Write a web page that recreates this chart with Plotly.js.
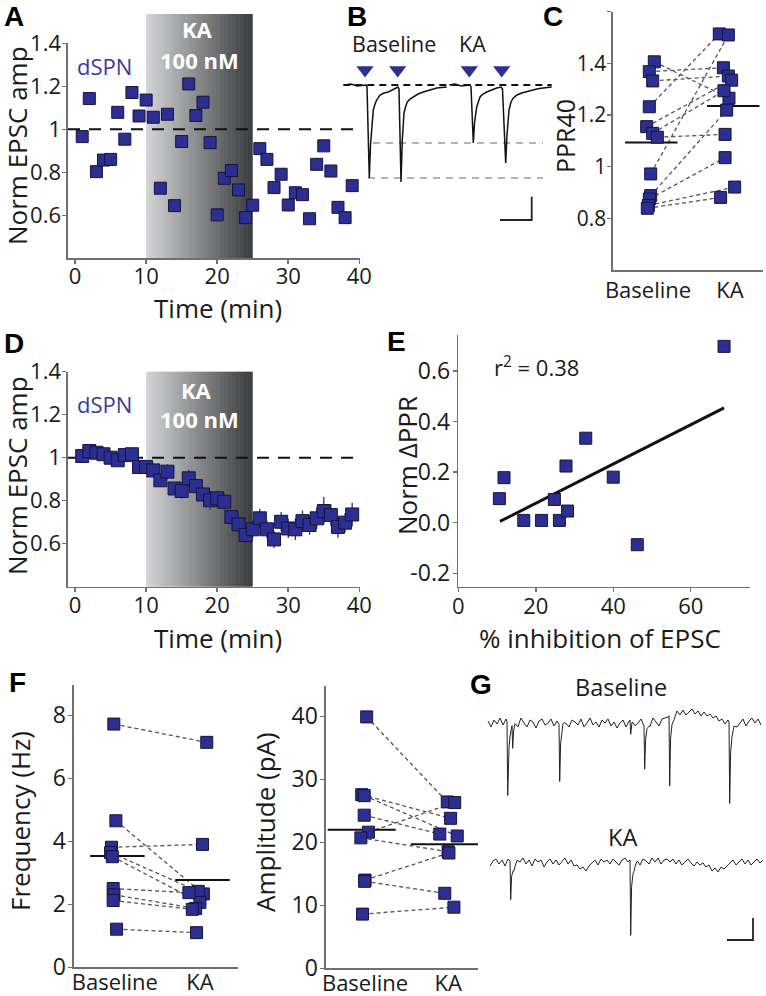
<!DOCTYPE html>
<html>
<head>
<meta charset="utf-8">
<script src="https://cdn.plot.ly/plotly-3.0.1.min.js"></script>
<style>
  html, body { margin: 0; padding: 0; background: #fff; }
  #fig { width: 766px; height: 996px; }
</style>
</head>
<body>
<div id="fig"></div>
<script>
// ---------- data ----------
// A: single dSPN, EPSC amplitude per minute
const timeA = [1,2,3,4,5,6,7,8,9,10,11,12,13,14,15,16,17,18,19,20,21,22,23,24,25,26,27,28,29,30,31,32,33,34,35,36,37,38,39];
const ampA = [0.966,1.143,0.803,0.857,0.860,1.079,0.954,1.171,1.062,1.136,1.056,0.726,1.070,0.645,0.943,1.211,1.064,1.126,0.938,0.602,
              0.772,0.808,0.718,0.589,0.647,0.910,0.860,0.729,0.791,0.648,0.705,0.696,0.584,0.837,0.923,0.806,0.637,0.589,0.738];
// D: population mean +/- sem
const timeD = [1,2,3,4,5,6,7,8,9,10,11,12,13,14,15,16,17,18,19,20,21,22,23,24,25,26,27,28,29,30,31,32,33,34,35,36,37,38,39];
const ampD = [1.008,1.031,1.023,1.016,1.000,0.988,1.012,1.016,0.957,0.957,0.941,0.895,0.935,0.857,0.845,0.904,0.868,0.829,0.802,0.811,
              0.795,0.724,0.690,0.640,0.667,0.718,0.667,0.620,0.702,0.671,0.667,0.705,0.687,0.718,0.752,0.733,0.678,0.698,0.736];
const errD = [0.020,0.030,0.025,0.020,0.020,0.025,0.020,0.020,0.025,0.025,0.030,0.030,0.035,0.030,0.035,0.040,0.035,0.035,0.045,0.035,
              0.040,0.035,0.040,0.045,0.040,0.045,0.040,0.040,0.045,0.045,0.050,0.050,0.045,0.050,0.065,0.050,0.050,0.045,0.055];
const kaWindow = [10, 25];

// B: example paired-pulse EPSCs (ms, pA)
const bBaseT = [2,8,14,20,23,24,26.3,27.5,29,30.3,32,33.7,37,41,45.3,52,55,56,58,59.3,61,62.5,64.3,67,70.3,75,80.3,87,93.7,103.7];
const bBaseI = [0,1,-1,0,0,-2,-93,-60,-35,-25,-19,-15,-10,-8,-7,-3,-2,-4,-97,-55,-28,-22,-17,-14,-12,-9,-7,-5,-3,-2];
const bKAT = [106.3,112,118,124,127,128,130.3,131.5,133.7,137,140,143.7,148,153.7,158,159.5,162.7,164,166,168,170.3,174,178.7,185,193.7,200,208.7];
const bKAI = [0,1,-1,0,0,-2,-58,-38,-22,-12,-9,-7,-5,-3,-2,-4,-78,-50,-25,-17,-13,-10,-8,-6,-4,-3,-2];
const bStimT = [22, 54.7, 126.3, 158.7];
const bRefLevel = [-58, -93];
const bRefStart = [30, 25];
const bRefEnd = [200, 200];
const bScaleT = [157, 188.7, 188.7];
const bScaleI = [-135, -135, -111.7];

// C: PPR40 baseline vs KA
const pprBase = [1.406,1.368,1.332,1.232,1.155,1.129,1.114,0.972,0.888,0.875,0.850,0.839];
const pprBaseX = [0.077,0.016,0.057,0.016,-0.016,0.057,0.114,0.033,0.033,0.016,0.004,-0.008];
const pprKA = [1.265,1.383,1.351,1.514,1.335,1.294,1.125,1.510,1.219,1.035,0.921,0.881];
const pprKAX = [0.988,0.920,0.980,0.870,1.020,0.927,0.940,0.980,0.960,0.940,1.057,0.886];
const pprMeans = [1.094, 1.235];

// E: % inhibition vs norm dPPR
const inhib = [10.6,11.8,16.9,21.5,24.8,26.1,28.2,27.8,32.9,40.0,46.2,68.6];
const dPPR = [0.095,0.178,0.009,0.009,0.092,0.009,0.046,0.224,0.334,0.180,-0.087,0.697];
const fitX = [10.75, 68.6];
const fitY = [0.005, 0.454];

// F: mEPSC frequency and amplitude
const freqBase = [7.72,4.65,3.81,3.64,3.51,2.50,2.30,2.12,1.21];
const freqBaseX = [-0.012,0.012,-0.04,-0.05,-0.03,-0.02,-0.01,-0.02,0.02];
const freqKA = [7.14,2.33,3.90,2.41,2.06,2.37,1.87,1.84,1.10];
const freqKAX = [1.08,1.04,1.03,0.98,1.00,0.87,0.95,0.91,0.96];
const freqMeans = [3.53, 2.77];
const mampBase = [39.9,27.55,27.4,24.3,21.6,20.7,14.0,13.8,8.6];
const mampBaseX = [0.02,-0.04,-0.01,-0.01,0.04,-0.05,0,-0.005,-0.03];
const mampKA = [26.4,23.8,21.0,21.3,26.3,18.5,18.3,11.9,9.7];
const mampKAX = [0.99,1.03,1.11,0.90,1.08,1.00,1.01,0.96,1.07];
const mampMeans = [22.0, 19.7];

// G: example mEPSC traces (noise samples every 3 ms, events [time, pA])
const gBaseNoise = [2,-4,3,-1,5,-2,4,-4,1,3,-3,5,0,-4,3,1,-5,2,4,-2,0,4,-3,2,-3,5,0,-4,3,1,
                    -2,4,-4,0,5,-2,1,-4,3,0,4,-3,1,-5,0,3,-4,2,5,-2,0,4,-3,1,-2,5,1,-3,4,5,
                    6,10,7,12,8,13,8,11,14,9,12,7,11,7,9,5,7,2,4,-1,3,-3,1,-4,0,4,-3,2,5,0,4,-2];
const gBaseEvents = [[22,-72],[27,-24],[74,-56],[145,-15],[159,-44],[184,-71],[244,-80]];
const gKANoise = [-3,2,4,-1,3,-3,4,1,-4,3,1,5,-1,3,-3,4,1,3,-4,1,4,-1,3,-2,1,5,-1,3,-3,-2,
                  -6,-4,-8,-3,0,3,-2,4,1,3,-1,4,1,-2,3,5,1,4,-1,3,-2,4,2,-1,5,1,5,-1,3,4,
                  1,4,-1,3,-2,1,4,0,-3,1,-2,0,-4,-2,-8,-5,-9,-4,-6,-3,0,3,-2,1,4,-1,3,-2,1,4,0,3];
const gKAEvents = [[25,-38],[145,-76]];
const gEventOff = [0, 0.7, 1.6, 3, 5, 8];
const gEventVal = [0, 1, 0.35, 0.15, 0.05, 0];
const gScaleT = [242, 268, 268];
const gScaleI = [-77, -77, -55];

// ---------- helpers ----------
const W = 766, H = 996;
const fx = px => px / W;
const fy = py => 1 - py / H;
const FONT = 'Open Sans, Noto Sans, sans-serif';
const INK = '#1a1a1a';
const BLUE = '#2c2f91';
const marker = size => ({ symbol: 'square', size: size, color: BLUE, line: { color: '#15153f', width: 1 } });

function axis(extra) {
  return Object.assign({
    showgrid: false, zeroline: false, showline: true, linecolor: '#707070', linewidth: 1.6,
    ticks: 'outside', ticklen: 4, tickwidth: 1.5, tickcolor: '#707070',
    tickfont: { family: FONT, size: 23, color: INK }, fixedrange: true
  }, extra);
}
function hidden(extra) {
  return Object.assign({ visible: false, fixedrange: true }, extra);
}
function pairs(bx, by, kx, ky) {
  const x = [], y = [];
  for (let i = 0; i < by.length; i++) { x.push(bx[i], kx[i], null); y.push(by[i], ky[i], null); }
  return { x, y };
}
function meanBars(means, halfL, halfR) {
  return { x: [-halfL, halfR, null, 1 - halfL, 1 + halfR], y: [means[0], means[0], null, means[1], means[1]] };
}
function traceFrom(t0, dt, noise, events) {
  const tmpl = d => {
    if (d < gEventOff[0] || d > gEventOff[gEventOff.length - 1]) return 0;
    for (let k = 1; k < gEventOff.length; k++) {
      if (d <= gEventOff[k]) {
        const f = (d - gEventOff[k - 1]) / (gEventOff[k] - gEventOff[k - 1]);
        return gEventVal[k - 1] + f * (gEventVal[k] - gEventVal[k - 1]);
      }
    }
    return 0;
  };
  const noiseAt = t => {
    const f = (t - t0) / dt;
    const i = Math.max(0, Math.min(noise.length - 2, Math.floor(f)));
    const r = Math.max(0, Math.min(1, f - i));
    return noise[i] + r * (noise[i + 1] - noise[i]);
  };
  const ts = noise.map((_, i) => t0 + i * dt);
  events.forEach(ev => gEventOff.forEach(o => ts.push(ev[0] + o)));
  ts.sort((a, b) => a - b);
  const ys = ts.map(t => noiseAt(t) + events.reduce((s, ev) => s + ev[1] * tmpl(t - ev[0]), 0));
  return { x: ts, y: ys };
}
function shade(xa, pyTop, pyBot) {
  const n = 40, c0 = [212, 213, 215], c1 = [56, 57, 59];
  const w = (kaWindow[1] - kaWindow[0]) / n;
  const out = [];
  for (let i = 0; i < n; i++) {
    const t = (i + 0.5) / n;
    const c = c0.map((v, k) => Math.round(v + (c1[k] - v) * t));
    out.push({
      type: 'rect', xref: xa, yref: 'paper', layer: 'below',
      x0: kaWindow[0] + i * w, x1: Math.min(kaWindow[1], kaWindow[0] + (i + 1.2) * w),
      y0: fy(pyBot), y1: fy(pyTop),
      fillcolor: 'rgb(' + c.join(',') + ')', line: { width: 0 }
    });
  }
  return out;
}
function ann(text, px, py, size, opts) {
  return Object.assign({
    text: text, xref: 'paper', yref: 'paper', x: fx(px), y: fy(py),
    xanchor: 'center', yanchor: 'middle', showarrow: false, borderpad: 0,
    font: { family: FONT, size: size, color: INK }
  }, opts || {});
}
// axis titles placed as rotated/plain text at the reference positions
function ytitle(text, px, py, size) { return ann(text, px, py, size || 26, { textangle: -90 }); }
function xtitle(text, px, py) { return ann(text, px, py, 26); }
function letter(t, px, py) {
  return ann('<b>' + t + '</b>', px, py, 28, { font: { family: 'Liberation Sans, Arial, sans-serif', size: 28, color: '#000' } });
}

// ---------- traces ----------
const data = [];
// A
data.push({ x: timeA, y: ampA, mode: 'markers', marker: marker(12), xaxis: 'x', yaxis: 'y' });
// D
data.push({ x: timeD, y: ampD, mode: 'markers', marker: marker(13), xaxis: 'x4', yaxis: 'y4',
            error_y: { type: 'data', array: errD, color: '#3a3a3a', thickness: 1.3, width: 0 } });
// B
data.push({ x: [0.3, 208.7], y: [0, 0], mode: 'lines', line: { color: '#111', width: 1.8, dash: '7px,5px' }, xaxis: 'x2', yaxis: 'y2' });
bRefLevel.forEach((lv, i) => data.push({ x: [bRefStart[i], bRefEnd[i]], y: [lv, lv], mode: 'lines',
  line: { color: '#9a9a9a', width: 1.6, dash: '7px,6px' }, xaxis: 'x2', yaxis: 'y2' }));
data.push({ x: bBaseT, y: bBaseI, mode: 'lines', line: { color: '#111', width: 1.5 }, xaxis: 'x2', yaxis: 'y2' });
data.push({ x: bKAT, y: bKAI, mode: 'lines', line: { color: '#111', width: 1.5 }, xaxis: 'x2', yaxis: 'y2' });
data.push({ x: bStimT, y: bStimT.map(() => 15), mode: 'markers', xaxis: 'x2', yaxis: 'y2',
            marker: { symbol: 'triangle-down', size: 15, color: BLUE, line: { width: 0 } } });
data.push({ x: bScaleT, y: bScaleI, mode: 'lines', line: { color: '#222', width: 1.8 }, xaxis: 'x2', yaxis: 'y2' });
// C
const pc = pairs(pprBaseX, pprBase, pprKAX, pprKA);
data.push({ x: pc.x, y: pc.y, mode: 'lines', line: { color: '#555', width: 1.3, dash: '4px,3px' }, xaxis: 'x3', yaxis: 'y3' });
const mc = meanBars(pprMeans, 0.28, 0.36);
data.push({ x: mc.x, y: mc.y, mode: 'lines', line: { color: '#111', width: 2 }, xaxis: 'x3', yaxis: 'y3' });
data.push({ x: pprBaseX.concat(pprKAX), y: pprBase.concat(pprKA), mode: 'markers', marker: marker(12), xaxis: 'x3', yaxis: 'y3' });
// E
data.push({ x: fitX, y: fitY, mode: 'lines', line: { color: '#111', width: 3 }, xaxis: 'x5', yaxis: 'y5' });
data.push({ x: inhib, y: dPPR, mode: 'markers', marker: marker(12), xaxis: 'x5', yaxis: 'y5' });
// F frequency
const pf = pairs(freqBaseX, freqBase, freqKAX, freqKA);
data.push({ x: pf.x, y: pf.y, mode: 'lines', line: { color: '#555', width: 1.3, dash: '4px,3px' }, xaxis: 'x6', yaxis: 'y6' });
const mf = meanBars(freqMeans, 0.29, 0.35);
data.push({ x: mf.x, y: mf.y, mode: 'lines', line: { color: '#111', width: 2 }, xaxis: 'x6', yaxis: 'y6' });
data.push({ x: freqBaseX.concat(freqKAX), y: freqBase.concat(freqKA), mode: 'markers', marker: marker(12), xaxis: 'x6', yaxis: 'y6' });
// F amplitude
const pa = pairs(mampBaseX, mampBase, mampKAX, mampKA);
data.push({ x: pa.x, y: pa.y, mode: 'lines', line: { color: '#555', width: 1.3, dash: '4px,3px' }, xaxis: 'x7', yaxis: 'y7' });
const ma = meanBars(mampMeans, 0.45, 0.37);
data.push({ x: ma.x, y: ma.y, mode: 'lines', line: { color: '#111', width: 2 }, xaxis: 'x7', yaxis: 'y7' });
data.push({ x: mampBaseX.concat(mampKAX), y: mampBase.concat(mampKA), mode: 'markers', marker: marker(12), xaxis: 'x7', yaxis: 'y7' });
// G
const gb = traceFrom(3, 3, gBaseNoise, gBaseEvents);
const gk = traceFrom(5, 3, gKANoise, gKAEvents);
data.push({ x: gb.x, y: gb.y, mode: 'lines', line: { color: '#222', width: 1 }, xaxis: 'x8', yaxis: 'y8' });
data.push({ x: gk.x, y: gk.y, mode: 'lines', line: { color: '#222', width: 1 }, xaxis: 'x8', yaxis: 'y9' });
data.push({ x: gScaleT, y: gScaleI, mode: 'lines', line: { color: '#222', width: 1.8 }, xaxis: 'x8', yaxis: 'y9' });

// ---------- layout ----------
const xtickFont = { family: FONT, size: 22, color: INK };
const ytickEPSC = { tickvals: [0.6, 0.8, 1, 1.2, 1.4], ticktext: ['0.6', '0.8', '1', '1.2', '1.4'],
                    tickfont: { family: FONT, size: 22, color: INK }, ticklabelstandoff: -3 };
const catTicks = { ticks: '', tickvals: [0, 1], ticktext: ['Baseline', 'KA'], tickfont: { family: FONT, size: 22, color: INK } };
const layout = {
  width: W, height: H, margin: { l: 0, r: 0, t: 0, b: 0 },
  paper_bgcolor: '#fff', plot_bgcolor: 'rgba(0,0,0,0)', showlegend: false,
  font: { family: FONT, color: INK },
  // A
  xaxis: axis({ domain: [fx(68), fx(360)], range: [-1, 40.1], tickvals: [0, 10, 20, 30, 40], anchor: 'y', ticklabelstandoff: -6, tickfont: xtickFont }),
  yaxis: axis(Object.assign({ domain: [fy(258.3), fy(43.3)], range: [0.4, 1.4], anchor: 'x' }, ytickEPSC)),
  // B
  xaxis2: hidden({ domain: [fx(343), fx(555)], range: [0, 212], anchor: 'y2' }),
  yaxis2: hidden({ domain: [fy(225), fy(60)], range: [-140, 25], anchor: 'x2' }),
  // C
  xaxis3: axis(Object.assign({ domain: [fx(613), fx(763)], range: [-0.427, 1.403], anchor: 'y3' }, catTicks)),
  yaxis3: axis({ domain: [fy(270), fy(11.7)], range: [0.6, 1.6], anchor: 'x3', tickvals: [0.8, 1, 1.2, 1.4, 1.6], ticktext: ['0.8', '1', '1.2', '1.4', '1.6'],
                 tickfont: { family: FONT, size: 21, color: INK }, ticklabelstandoff: -3 }),
  // D
  xaxis4: axis({ domain: [fx(68), fx(360)], range: [-1, 40.1], tickvals: [0, 10, 20, 30, 40], anchor: 'y4', ticklabelstandoff: -6, tickfont: xtickFont }),
  yaxis4: axis(Object.assign({ domain: [fy(586.7), fy(371.7)], range: [0.4, 1.4], anchor: 'x4' }, ytickEPSC)),
  // E
  xaxis5: axis({ domain: [fx(458.3), fx(750)], range: [0, 75.3], tickvals: [0, 20, 40, 60], anchor: 'y5', ticklabelstandoff: -5, tickfont: xtickFont }),
  yaxis5: axis({ domain: [fy(586.7), fy(335)], range: [-0.253, 0.742], anchor: 'x5', tickvals: [-0.2, 0, 0.2, 0.4, 0.6], ticktext: ['-0.2', '0.0', '0.2', '0.4', '0.6'],
                 ticklabelstandoff: -2 }),
  // F frequency
  xaxis6: axis(Object.assign({ domain: [fx(74), fx(238)], range: [-0.48, 1.447], anchor: 'y6', ticklabelstandoff: -5 }, catTicks)),
  yaxis6: axis({ domain: [fy(967.3), fy(685)], range: [0, 8.96], anchor: 'x6', tickvals: [0, 2, 4, 6, 8], ticklabelstandoff: -2 }),
  // F amplitude
  xaxis7: axis(Object.assign({ domain: [fx(326), fx(478)], range: [-0.47, 1.36], anchor: 'y7', ticklabelstandoff: -5 }, catTicks)),
  yaxis7: axis({ domain: [fy(968.3), fy(686)], range: [0, 44.8], anchor: 'x7', tickvals: [0, 10, 20, 30, 40], ticklabelstandoff: -2 }),
  // G
  xaxis8: hidden({ domain: [fx(485), fx(765)], range: [0, 280], anchor: 'y8' }),
  yaxis8: hidden({ domain: [fy(812), fy(700)], range: [-89, 23], anchor: 'x8' }),
  yaxis9: hidden({ domain: [fy(945), fy(840)], range: [-82, 23], anchor: 'x8' }),
  shapes: [].concat(
    shade('x', 14, 258.3),
    shade('x4', 371.7, 586.7),
    [
      { type: 'line', xref: 'x', yref: 'y', x0: -1, x1: 40.1, y0: 1, y1: 1, layer: 'below', line: { color: '#111', width: 2, dash: '12px,9px' } },
      { type: 'line', xref: 'x4', yref: 'y4', x0: -1, x1: 40.1, y0: 1, y1: 1, layer: 'below', line: { color: '#111', width: 2, dash: '12px,9px' } }
    ]
  ),
  annotations: [
    letter('A', 14, 17), letter('B', 357, 17), letter('C', 553, 17), letter('D', 14, 343),
    letter('E', 396, 341), letter('F', 17, 682), letter('G', 481, 684),
    ytitle('Norm EPSC amp', 17, 146), xtitle('Time (min)', 218, 308),
    ytitle('Norm EPSC amp', 17, 476), xtitle('Time (min)', 218, 638),
    ytitle('PPR40', 565, 136, 25),
    ytitle('Norm ΔPPR', 407, 466), xtitle('% inhibition of EPSC', 600, 638),
    ytitle('Frequency (Hz)', 20, 821), ytitle('Amplitude (pA)', 265, 822),
    ann('dSPN', 104, 66, 22, { font: { family: FONT, size: 22, color: '#3b3b9e' } }),
    ann('dSPN', 104, 404, 22, { font: { family: FONT, size: 22, color: '#3b3b9e' } }),
    ann('<b>KA</b>', 197, 29, 22, { font: { family: FONT, size: 22, color: '#fff' } }),
    ann('<b>100 nM</b>', 199, 60, 22, { font: { family: FONT, size: 22, color: '#fff' } }),
    ann('<b>KA</b>', 196, 390, 22, { font: { family: FONT, size: 22, color: '#fff' } }),
    ann('<b>100 nM</b>', 199, 419, 22, { font: { family: FONT, size: 22, color: '#fff' } }),
    ann('Baseline', 394, 44, 21.5),
    ann('KA', 472, 44, 21.5),
    ann('r<sup>2</sup> = 0.38', 536, 367, 22),
    ann('Baseline', 621, 687, 23.5),
    ann('KA', 622, 837, 23.5)
  ]
};

Plotly.newPlot('fig', data, layout, { staticPlot: true, displayModeBar: false });
</script>
</body>
</html>
